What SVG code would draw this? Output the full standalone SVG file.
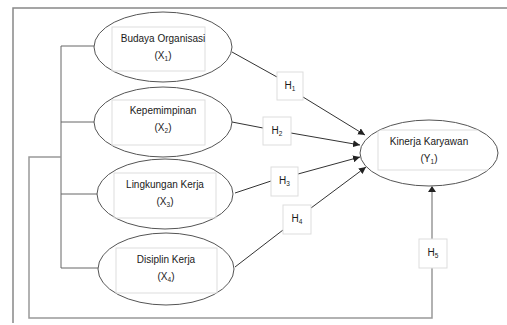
<svg xmlns="http://www.w3.org/2000/svg" width="507" height="325" viewBox="0 0 507 325">
<defs>
<style>
.el{fill:#fff;stroke:#555;stroke-width:1}
.in{fill:none;stroke:#ddd;stroke-width:1}
.hb{fill:#fff;stroke:#ddd;stroke-width:1}
.t{font-family:"Liberation Sans",Arial,sans-serif;font-size:10px;fill:#1a1a1a;text-anchor:middle}
.sub{font-size:6.5px}
.ln{fill:none;stroke:#333;stroke-width:1}
.bus{fill:none;stroke:#666;stroke-width:1}
.fb{fill:none;stroke:#999;stroke-width:1.5}
.frame{fill:none;stroke:#888;stroke-width:1.5}
</style>
<marker id="ah" viewBox="0 0 10 10" refX="10" refY="5" markerWidth="7" markerHeight="7" markerUnits="userSpaceOnUse" orient="auto">
<path d="M0,0 L10,5 L0,10 z" fill="#222"/>
</marker>
<clipPath id="cy"><ellipse cx="429" cy="153" rx="69" ry="33"/></clipPath>
</defs>
<rect width="507" height="325" fill="#fff"/>
<g id="frame">
<path class="frame" d="M13,323 V8 H507"/>
</g>
<g id="connectors">
<path class="bus" d="M61,46 V268 M61,46 H94 M61,122 H94 M61,194 H97 M61,268 H98"/>
<path class="fb" d="M61,157 H29 V318 H432 V192"/>
<path d="M428,192 L432,186 L436,192 z" fill="#222"/>
<path class="ln" d="M232,52 L277,77"/>
<path class="ln" d="M303,97 L365,135" marker-end="url(#ah)"/>
<path class="ln" d="M232,122 L263,128"/>
<path class="ln" d="M291,133 L360,145" marker-end="url(#ah)"/>
<path class="ln" d="M235,193 L271,181"/>
<path class="ln" d="M298,174 L360,157" marker-end="url(#ah)"/>
<path class="ln" d="M235,267 L283,230"/>
<path class="ln" d="M311,208 L366,167" marker-end="url(#ah)"/>
</g>
<g id="x1">
<ellipse class="el" cx="163" cy="47" rx="69" ry="35"/>
<rect class="in" x="112" y="27" width="93" height="44"/>
<text class="t" x="163" y="42">Budaya Organisasi</text>
<text class="t" x="163" y="59">(X<tspan class="sub" dy="2">1</tspan><tspan dy="-2">)</tspan></text>
</g>
<g id="x2">
<ellipse class="el" cx="163" cy="122" rx="69" ry="35"/>
<rect class="in" x="112" y="100" width="93" height="45"/>
<text class="t" x="163" y="114">Kepemimpinan</text>
<text class="t" x="163" y="131">(X<tspan class="sub" dy="2">2</tspan><tspan dy="-2">)</tspan></text>
</g>
<g id="x3">
<ellipse class="el" cx="165" cy="194" rx="68" ry="35"/>
<rect class="in" x="114" y="173" width="102" height="45"/>
<text class="t" x="165" y="188">Lingkungan Kerja</text>
<text class="t" x="165" y="205">(X<tspan class="sub" dy="2">3</tspan><tspan dy="-2">)</tspan></text>
</g>
<g id="x4">
<ellipse class="el" cx="166" cy="269" rx="68" ry="36"/>
<rect class="in" x="116" y="248" width="101" height="45"/>
<text class="t" x="166" y="263">Disiplin Kerja</text>
<text class="t" x="166" y="280">(X<tspan class="sub" dy="2">4</tspan><tspan dy="-2">)</tspan></text>
</g>
<g id="y1">
<ellipse class="el" cx="429" cy="153" rx="69" ry="33"/>
<rect class="in" x="378" y="130" width="130" height="40" clip-path="url(#cy)"/>
<text class="t" x="429" y="145">Kinerja Karyawan</text>
<text class="t" x="429" y="162">(Y<tspan class="sub" dy="2">1</tspan><tspan dy="-2">)</tspan></text>
</g>
<g id="h1">
<rect class="hb" x="277" y="72" width="26" height="28"/>
<text class="t" x="290" y="89">H<tspan class="sub" dy="2">1</tspan></text>
</g>
<g id="h2">
<rect class="hb" x="263" y="117" width="28" height="28"/>
<text class="t" x="277" y="134">H<tspan class="sub" dy="2">2</tspan></text>
</g>
<g id="h3">
<rect class="hb" x="271" y="167" width="27" height="29"/>
<text class="t" x="284.5" y="184">H<tspan class="sub" dy="2">3</tspan></text>
</g>
<g id="h4">
<rect class="hb" x="283" y="205" width="28" height="29"/>
<text class="t" x="297" y="222">H<tspan class="sub" dy="2">4</tspan></text>
</g>
<g id="h5">
<rect class="hb" x="419" y="239" width="28" height="29"/>
<text class="t" x="433" y="256">H<tspan class="sub" dy="2">5</tspan></text>
</g>
</svg>
